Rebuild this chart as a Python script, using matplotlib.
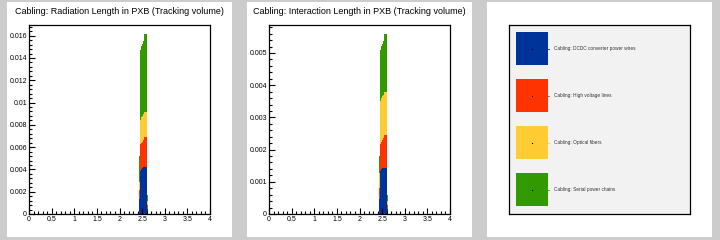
import numpy as np
import matplotlib.pyplot as plt
from matplotlib.ticker import MultipleLocator, FuncFormatter
from matplotlib.patches import Rectangle

plt.rcParams['font.family'] = ['Liberation Sans', 'DejaVu Sans']

# bins in eta (left edges), width 0.02
bin_left = [2.44, 2.46, 2.48, 2.50, 2.52, 2.54, 2.56, 2.58, 2.60]
bin_w = 0.02

labels = ['Cabling: DCDC converter power wires', 'Cabling: High voltage lines',
          'Cabling: Optical fibers', 'Cabling: Serial power chains']
colors = ['#003399', '#ff3300', '#ffcc33', '#339900']

# radiation length per component
rad_dcdc = [0.00135, 0.0039, 0.0040, 0.00416, 0.00425, 0.00425, 0.00425, 0.00425, 0.00042]
rad_hv = [0.00081, 0.00239, 0.0024, 0.00234, 0.0024, 0.0027, 0.0027, 0.0027, 0.00038]
rad_opt = [0.00074, 0.0021, 0.00229, 0.0023, 0.00235, 0.00222, 0.00222, 0.00222, 0.00037]
rad_sp = [0.00234, 0.00635, 0.00635, 0.00648, 0.00649, 0.00698, 0.00698, 0.00698, 0.00053]

# interaction length per component
int_dcdc = [0.00047, 0.00135, 0.00139, 0.00142, 0.00144, 0.00144, 0.00144, 0.00144, 0.00015]
int_hv = [0.00033, 0.00083, 0.00086, 0.00088, 0.00091, 0.00102, 0.00102, 0.00102, 0.00013]
int_opt = [0.00047, 0.00132, 0.00134, 0.00135, 0.00135, 0.00132, 0.00132, 0.00132, 0.00012]
int_sp = [0.000545, 0.0016, 0.00162, 0.00164, 0.00166, 0.00181, 0.00181, 0.00181, 0.00019]

fig = plt.figure(figsize=(7.2, 2.4), dpi=100)
fig.patch.set_facecolor('#cccccc')

W, H = 720.0, 240.0
# white pads
for x0 in [7, 247, 487]:
    fig.patches.append(Rectangle((x0 / W, 3 / H), 225 / W, 235 / H, transform=fig.transFigure,
                                 facecolor='white', edgecolor='none', zorder=-10))


def fmt(v, pos):
    if abs(v) < 1e-12:
        return '0'
    return '%g' % round(v, 6)


def hist_pad(x0, title, series, ymaj):
    ax = fig.add_axes([x0 / W, 26 / H, 181 / W, 189 / H])
    bottom = np.zeros(len(bin_left))
    for vals, c in zip(series, colors):
        ax.bar(bin_left, vals, width=bin_w, bottom=bottom, align='edge',
               color=c, linewidth=0)
        bottom = bottom + np.array(vals)
    ax.set_xlim(0, 4)
    ax.set_ylim(0, bottom.max() * 1.05)
    ax.xaxis.set_major_locator(MultipleLocator(0.5))
    ax.xaxis.set_minor_locator(MultipleLocator(0.1))
    ax.yaxis.set_major_locator(MultipleLocator(ymaj))
    ax.yaxis.set_minor_locator(MultipleLocator(ymaj / 5))
    ax.xaxis.set_major_formatter(FuncFormatter(fmt))
    ax.yaxis.set_major_formatter(FuncFormatter(fmt))
    ax.tick_params(which='both', direction='in', width=0.8, labelsize=5, pad=1.5)
    ax.tick_params(which='major', length=4)
    ax.tick_params(which='minor', length=2)
    for s in ax.spines.values():
        s.set_linewidth(0.9)
    fig.text((x0 + 90) / W, 229 / H, title, ha='center', va='center', fontsize=6.45)
    return ax


hist_pad(29, 'Cabling: Radiation Length in PXB (Tracking volume)',
         [rad_dcdc, rad_hv, rad_opt, rad_sp], 0.002)
hist_pad(269, 'Cabling: Interaction Length in PXB (Tracking volume)',
         [int_dcdc, int_hv, int_opt, int_sp], 0.001)

# legend pad
lg = fig.add_axes([509 / W, 26 / H, 181 / W, 189 / H])
lg.set_xlim(0, 181)
lg.set_ylim(189, 0)
lg.set_facecolor('#f2f2f2')
lg.set_xticks([])
lg.set_yticks([])
for s in lg.spines.values():
    s.set_linewidth(0.9)
for i, (lab, c) in enumerate(zip(labels, colors)):
    y0 = 7 + i * 47
    lg.add_patch(Rectangle((7, y0), 32, 32.5, facecolor=c, edgecolor='none'))
    lg.plot([23], [y0 + 16.5], marker='s', ms=0.8, color='black', mew=0)
    lg.plot([38, 40], [y0 + 16.5, y0 + 16.5], color=c, lw=0.6)
    lg.text(45, y0 + 16.5, lab, fontsize=3.4, va='center', ha='left', color='#333333')

fig.savefig('out.png', dpi=100, facecolor=fig.get_facecolor())
